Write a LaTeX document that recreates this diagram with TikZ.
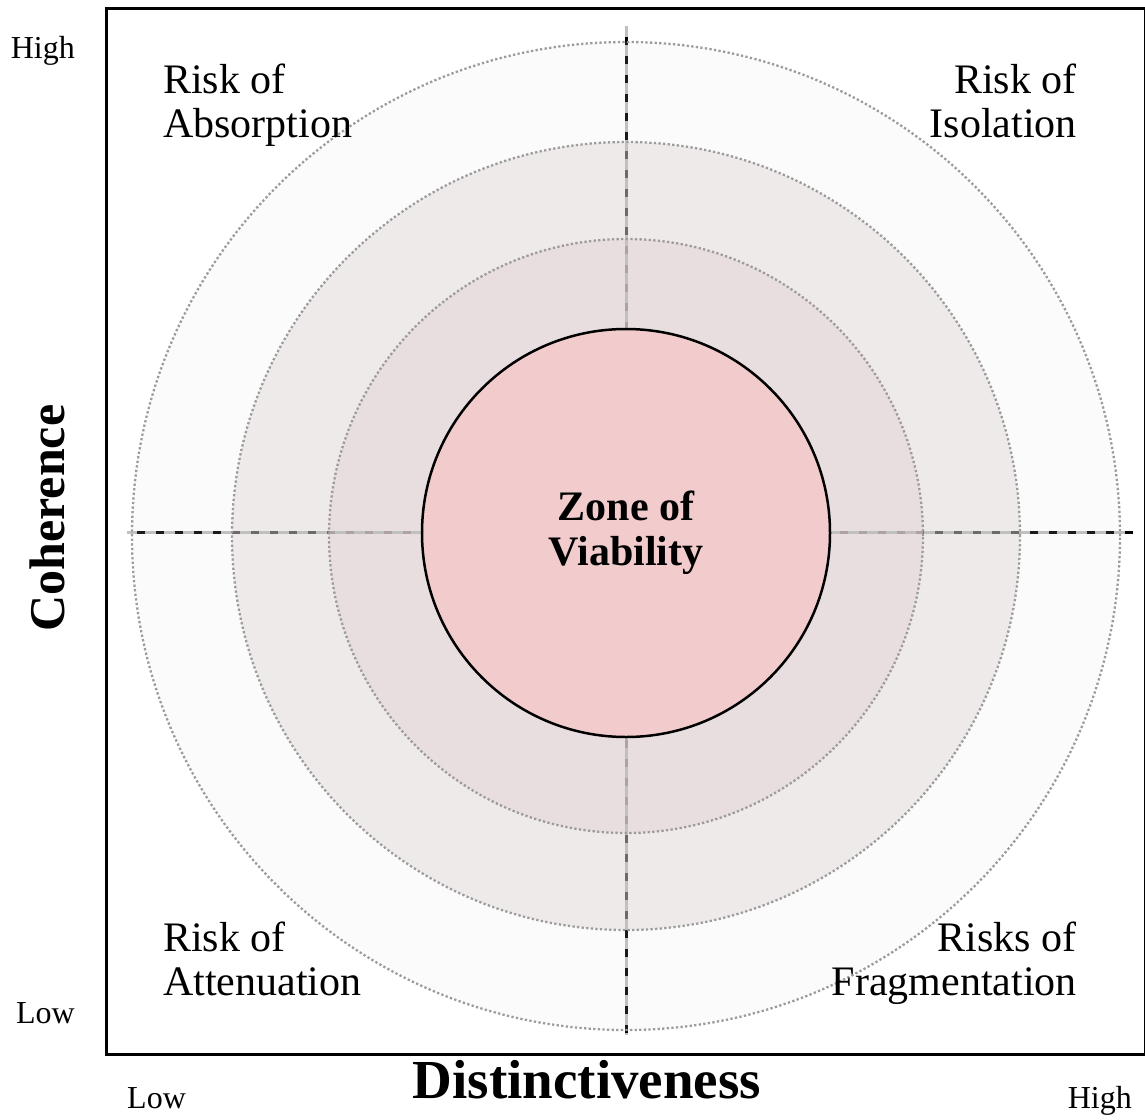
\documentclass[tikz,border=0pt]{standalone}
\usepackage{fontspec}
\setmainfont{Liberation Serif}
\definecolor{ringA}{rgb}{0.87,0.87,0.87}
\definecolor{ringB}{rgb}{0.88,0.835,0.835}
\definecolor{ringC}{rgb}{0.90,0.83,0.835}
\definecolor{zonefill}{HTML}{F2CCCC}
\definecolor{gapgray}{HTML}{C0C0C0}
\definecolor{dotgray}{HTML}{9C9C9C}
\begin{document}
\begin{tikzpicture}[x=1pt,y=-1pt,
  axisdash/.style={black, line width=3pt, dash pattern=on 8pt off 11pt},
  gapdash/.style={gapgray, line width=3pt, dash pattern=on 11pt off 8pt},
  ringline/.style={dotgray, line width=2.3pt, dash pattern=on 2.3pt off 2.3pt},
  quadlabel/.style={font=\fontsize{42}{44}\selectfont, inner sep=0pt},
  scalelabel/.style={font=\fontsize{32}{34}\selectfont, inner sep=0pt},
  axislabel/.style={font=\fontsize{50}{52}\selectfont\bfseries, inner sep=0pt}]
\useasboundingbox (0,0) rectangle (1145,1119);

% axis end points and centres
\coordinate (hl) at (127,532);
\coordinate (hr) at (1133,532);
\coordinate (vt) at (626,26);
\coordinate (vb) at (626,1035);
\coordinate (rc) at (626,536);

% black dashes of the two axes (tinted by the rings above them)
\draw[axisdash, dash phase=9pt] (hl) -- (hr);
\draw[axisdash, dash phase=8pt] (vt) -- (vb);

% translucent rings
\fill[ringA, fill opacity=0.12] (rc) circle[radius=494pt];
\fill[ringB, fill opacity=0.43] (rc) circle[radius=394pt];
\fill[ringC, fill opacity=0.54] (rc) circle[radius=297pt];

% grey segments between the dashes
\draw[gapdash, dash phase=1pt] (hl) -- (hr);
\draw[gapdash] (vt) -- (vb);

% dotted ring outlines
\draw[ringline] (rc) circle[radius=494pt];
\draw[ringline] (rc) circle[radius=394pt];
\draw[ringline] (rc) circle[radius=297pt];

% central zone
\node[circle, minimum size=408pt, inner sep=0pt, fill=zonefill, draw=black,
      line width=2.5pt, align=center, font=\fontsize{42}{45}\selectfont\bfseries]
      (zone) at (626,533) {Zone of\\Viability};

% frame
\draw[line width=3pt] (106,8) rectangle (1145,1054);

% quadrant labels (anchored on the baseline of their last line)
\node[quadlabel, anchor=base west, align=left] (absorb) at (163,137) {Risk of\\Absorption};
\node[quadlabel, anchor=base east, align=right] (isol) at (1077,137) {Risk of\\Isolation};
\node[quadlabel, anchor=base west, align=left] (atten) at (163,995) {Risk of\\Attenuation};
\node[quadlabel, anchor=base east, align=right] (frag) at (1077,995) {Risks of\\Fragmentation};

% scale labels
\node[scalelabel, anchor=base east] (yhigh) at (75,58) {High};
\node[scalelabel, anchor=base east] (ylow) at (75,1023) {Low};
\node[scalelabel, anchor=base west] (xlow) at (127,1108) {Low};
\node[scalelabel, anchor=base east] (xhigh) at (1132,1108) {High};

% axis titles
\node[axislabel, anchor=base, font=\fontsize{55}{57}\selectfont\bfseries] (xtitle) at (587,1098) {Distinctiveness};
\node[axislabel, anchor=base, rotate=90] (ytitle) at (64,518) {Coherence};
\end{tikzpicture}
\end{document}
